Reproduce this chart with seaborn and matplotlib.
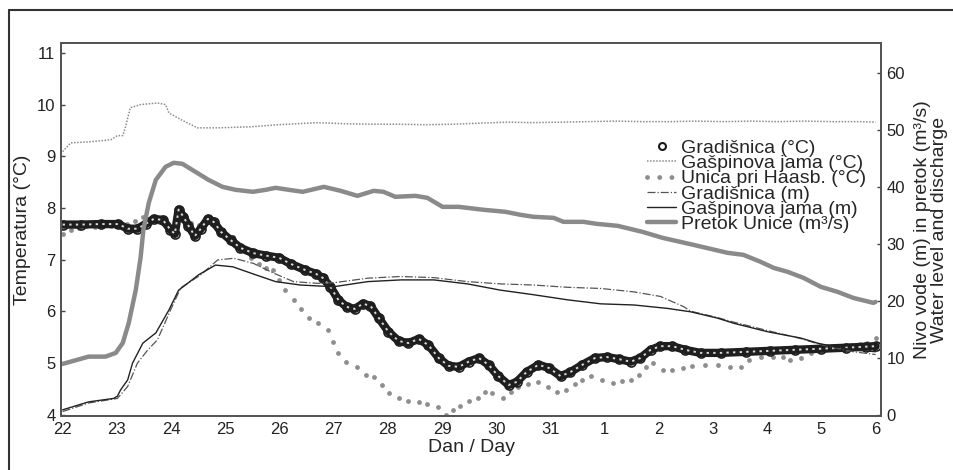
import matplotlib
matplotlib.use("Agg")
import matplotlib.pyplot as plt
import seaborn as sns
import pandas as pd
from matplotlib.lines import Line2D

# Dnevi (0 = 22.)
day_ticks = list(range(16))
day_labels = ['22', '23', '24', '25', '26', '27', '28', '29', '30', '31',
              '1', '2', '3', '4', '5', '6']

# Gradišnica (°C)
grad_t_day = [0.00, 0.33, 0.70, 1.03, 1.20, 1.38, 1.53, 1.68, 1.85, 1.99,
              2.07, 2.14, 2.23, 2.32, 2.44, 2.55, 2.68, 2.79, 2.92, 3.10,
              3.28, 3.51, 3.75, 3.99, 4.21, 4.48, 4.67, 4.80, 4.94, 5.09,
              5.24, 5.39, 5.54, 5.68, 5.83, 6.01, 6.20, 6.38, 6.57, 6.75,
              6.94, 7.12, 7.31, 7.49, 7.68, 7.86, 8.04, 8.23, 8.38, 8.56,
              8.78, 8.97, 9.19, 9.37, 9.59, 9.82, 10.04, 10.26, 10.48, 10.66,
              10.85, 11.03, 11.25, 11.48, 11.77, 12.14, 12.60, 13.06, 13.52, 13.99,
              14.45, 14.82, 15.00]
grad_t = [7.68, 7.68, 7.69, 7.69, 7.60, 7.60, 7.69, 7.79, 7.77, 7.58,
          7.50, 7.97, 7.83, 7.66, 7.46, 7.60, 7.79, 7.73, 7.54, 7.38,
          7.23, 7.13, 7.08, 7.04, 6.92, 6.80, 6.73, 6.65, 6.48, 6.22,
          6.09, 6.05, 6.15, 6.11, 5.88, 5.61, 5.43, 5.39, 5.47, 5.35,
          5.10, 4.95, 4.93, 5.03, 5.10, 4.97, 4.75, 4.58, 4.64, 4.83,
          4.97, 4.91, 4.75, 4.83, 4.97, 5.10, 5.12, 5.08, 5.03, 5.10,
          5.26, 5.33, 5.33, 5.26, 5.20, 5.20, 5.22, 5.24, 5.26, 5.28,
          5.30, 5.32, 5.33]

# Gašpinova jama (°C)
gasp_t_day = [0, 0.15, 0.5, 0.89, 1.01, 1.11, 1.16, 1.25, 1.44, 1.75,
              1.90, 1.96, 2.18, 2.49, 2.86, 3.47, 3.97, 4.70, 5.2, 5.7,
              6.2, 6.7, 7.2, 7.7, 8.2, 8.7, 9.2, 9.7, 10.2, 10.7,
              11.2, 11.7, 12.2, 12.7, 13.2, 13.7, 14.2, 14.7, 15.0]
gasp_t = [9.09, 9.26, 9.28, 9.32, 9.40, 9.40, 9.57, 9.94, 10.0, 10.03,
          10.0, 9.84, 9.71, 9.55, 9.55, 9.57, 9.61, 9.65, 9.63, 9.62,
          9.62, 9.61, 9.62, 9.64, 9.66, 9.65, 9.66, 9.67, 9.68, 9.67,
          9.67, 9.68, 9.67, 9.68, 9.67, 9.68, 9.67, 9.67, 9.66]

# Unica pri Haasbergu (°C)
uni_day = [0.00, 0.15, 0.30, 0.44, 0.59, 0.74, 0.89, 1.03, 1.18, 1.33,
           1.48, 1.62, 1.77, 1.92, 2.07, 2.21, 2.36, 2.51, 2.66, 2.80,
           2.95, 3.14, 3.32, 3.47, 3.62, 3.75, 3.88, 3.99, 4.11, 4.26,
           4.39, 4.54, 4.72, 4.89, 4.98, 5.09, 5.22, 5.44, 5.59, 5.74,
           5.90, 6.02, 6.20, 6.38, 6.57, 6.73, 6.92, 7.07, 7.21, 7.34,
           7.49, 7.66, 7.80, 7.93, 8.12, 8.27, 8.41, 8.58, 8.78, 8.95,
           9.13, 9.28, 9.45, 9.59, 9.74, 9.96, 10.15, 10.33, 10.48, 10.63,
           10.76, 10.89, 11.07, 11.25, 11.44, 11.62, 11.86, 12.10, 12.32, 12.51,
           12.66, 12.88, 13.10, 13.30, 13.43, 13.62, 13.80, 13.99, 14.23, 14.39,
           14.54, 14.72, 14.85, 15.00]
uni_t = [7.50, 7.58, 7.62, 7.66, 7.64, 7.66, 7.66, 7.68, 7.69, 7.75,
         7.83, 7.77, 7.73, 7.69, 7.73, 7.77, 7.71, 7.68, 7.73, 7.66,
         7.58, 7.44, 7.19, 7.04, 6.92, 6.84, 6.80, 6.61, 6.42, 6.22,
         6.05, 5.88, 5.78, 5.64, 5.41, 5.20, 5.03, 4.93, 4.77, 4.74,
         4.58, 4.43, 4.33, 4.27, 4.25, 4.21, 4.15, 4.00, 4.10, 4.17,
         4.27, 4.33, 4.44, 4.43, 4.33, 4.44, 4.54, 4.60, 4.64, 4.54,
         4.44, 4.48, 4.60, 4.68, 4.75, 4.68, 4.62, 4.66, 4.68, 4.77,
         4.93, 5.01, 4.87, 4.87, 4.91, 4.95, 4.97, 4.97, 4.93, 4.93,
         5.06, 5.12, 5.12, 5.12, 5.06, 5.10, 5.20, 5.32, 5.32, 5.33,
         5.35, 5.37, 5.39, 5.49]

# Gradišnica (m)
grad_m_day = [0, 0.48, 1.01, 1.20, 1.38, 1.57, 1.75, 1.99, 2.18, 2.55,
              2.86, 3.16, 3.52, 3.89, 4.26, 4.70, 5.00, 5.63, 6.24, 6.85,
              7.47, 8.08, 8.69, 9.32, 9.93, 10.54, 11.03, 11.46, 11.59, 12.08,
              12.38, 13.01, 13.62, 13.93, 14.23, 14.59, 15.0]
grad_m = [0.6, 2.1, 2.9, 5.0, 9.1, 11.4, 13.2, 18.4, 22.3, 24.6,
          27.2, 27.5, 26.6, 24.9, 23.4, 23.1, 23.2, 24.0, 24.3, 24.1,
          23.4, 23.0, 22.8, 22.4, 22.2, 21.6, 20.8, 19.0, 18.2, 17.1,
          16.3, 14.8, 13.4, 12.5, 11.8, 11.1, 10.6]

# Gašpinova jama (m)
gasp_m_day = [0, 0.48, 0.94, 1.01, 1.07, 1.20, 1.29, 1.48, 1.72, 1.96,
              2.14, 2.32, 2.51, 2.82, 3.14, 3.56, 3.93, 4.39, 5.00, 5.63,
              6.24, 6.85, 7.47, 8.08, 8.69, 9.32, 9.93, 10.54, 11.16, 11.59,
              12.08, 12.38, 13.01, 13.62, 13.93, 14.23, 14.59, 15.0]
gasp_m = [0.9, 2.3, 2.9, 3.3, 4.4, 6.15, 9.1, 12.6, 14.4, 18.4,
          21.9, 23.2, 24.6, 26.3, 26.0, 24.6, 23.4, 22.8, 22.5, 23.4,
          23.7, 23.7, 23.0, 21.9, 21.1, 20.2, 19.5, 19.3, 18.7, 18.1,
          17.0, 16.1, 14.6, 13.5, 12.6, 12.0, 11.4, 11.1]

# Pretok Unice (m3/s)
q_day = [0.00, 0.48, 0.79, 0.98, 1.11, 1.22, 1.35, 1.44, 1.49, 1.59,
         1.72, 1.90, 2.05, 2.21, 2.45, 2.69, 2.95, 3.19, 3.51, 3.75,
         3.93, 4.17, 4.43, 4.82, 5.13, 5.44, 5.74, 5.92, 6.14, 6.51,
         6.73, 7.01, 7.31, 7.77, 8.17, 8.45, 8.69, 9.06, 9.24, 9.61,
         9.85, 10.24, 10.70, 11.07, 11.64, 12.27, 12.56, 12.88, 13.12, 13.38,
         13.67, 13.99, 14.30, 14.59, 14.96, 15.00]
q = [8.96, 10.24, 10.24, 10.89, 12.64, 16.15, 21.95, 27.74, 32.48, 37.23,
     41.26, 43.55, 44.25, 44.07, 42.67, 41.26, 40.03, 39.51, 39.16, 39.51,
     39.86, 39.51, 39.16, 40.03, 39.33, 38.45, 39.33, 39.16, 38.28, 38.45,
     38.10, 36.52, 36.52, 36.0, 35.65, 35.12, 34.77, 34.59, 33.89, 33.89,
     33.54, 33.19, 32.13, 31.08, 29.85, 28.45, 28.10, 26.87, 25.81, 25.11,
     24.06, 22.48, 21.60, 20.54, 19.67, 19.84]

labels = ['Gradišnica (°C)', 'Gašpinova jama (°C)', 'Unica pri Haasb. (°C)',
          'Gradišnica (m)', 'Gašpinova jama (m)', 'Pretok Unice (m³/s)']

sns.set_style("white")
plt.rcParams['font.family'] = ['Liberation Sans', 'DejaVu Sans']

fig = plt.figure(figsize=(9.54, 4.70), dpi=100)
ax = fig.add_axes([61 / 954, 1 - 416 / 470, 820 / 954, 373 / 470])
ax2 = ax.twinx()

# temperature (left axis)
sns.lineplot(x=gasp_t_day, y=gasp_t, ax=ax, color='#8c8c8c', lw=1.1,
             linestyle=(0, (1, 1)), estimator=None, sort=False)
d_grad = pd.DataFrame({'dan': grad_t_day, 't': grad_t})
sns.lineplot(data=d_grad, x='dan', y='t', ax=ax, color='#1e1e1e', lw=6,
             estimator=None, sort=False)
sns.lineplot(data=d_grad, x='dan', y='t', ax=ax, color='#1e1e1e', lw=0,
             marker='o', markersize=6.5, markerfacecolor='none',
             markeredgecolor='#1e1e1e', markeredgewidth=1.2,
             estimator=None, sort=False)
sns.lineplot(data=d_grad, x='dan', y='t', ax=ax, color='#d8d8d8', lw=1.4,
             linestyle=(0, (1.2, 2.2)), estimator=None, sort=False)
sns.scatterplot(x=uni_day, y=uni_t, ax=ax, color='#8e8e8e', s=12,
                linewidth=0)

# level and discharge (right axis)
sns.lineplot(x=grad_m_day, y=grad_m, ax=ax2, color='#555555', lw=0.9,
             linestyle='-.', estimator=None, sort=False)
sns.lineplot(x=gasp_m_day, y=gasp_m, ax=ax2, color='#222222', lw=1.0,
             estimator=None, sort=False)
sns.lineplot(x=q_day, y=q, ax=ax2, color='#8a8a8a', lw=3.2,
             estimator=None, sort=False)

ax.set_xlim(-0.03, 15.1)
ax.set_ylim(3.98, 11.19)
ax2.set_ylim(-0.18, 65.27)
ax.set_xticks(day_ticks)
ax.set_xticklabels(day_labels)
ax.set_yticks(range(4, 12))
ax2.set_yticks(range(0, 61, 10))

ax.set_xlabel('Dan / Day', fontsize=14, labelpad=2)
ax.set_ylabel('Temperatura (°C)', fontsize=14, labelpad=4)
ax2.set_ylabel('Nivo vode (m) in pretok (m³/s)\nWater level and discharge',
               fontsize=14, labelpad=6, linespacing=1.0)

for a in (ax, ax2):
    a.tick_params(direction='in', length=3, width=1, color='#444444',
                  labelsize=12, labelcolor='#222222', pad=4)
    for s in a.spines.values():
        s.set_color('#555555')
        s.set_linewidth(1.4)

handles = [
    Line2D([], [], ls='none', marker='o', ms=5, mfc='white', mec='#1a1a1a', mew=1.5),
    Line2D([], [], color='#8c8c8c', lw=1.1, ls=(0, (1, 1))),
    Line2D([], [], color='#8e8e8e', lw=3.5, ls=(0, (0.01, 2.5)), dash_capstyle='round'),
    Line2D([], [], color='#555555', lw=0.9, ls='-.'),
    Line2D([], [], color='#222222', lw=1.0),
    Line2D([], [], color='#8a8a8a', lw=3.2),
]
ax2.legend(handles, labels, loc='upper left', bbox_to_anchor=(0.715, 0.742),
           frameon=False, fontsize=14, labelspacing=-0.12, handlelength=1.5,
           handletextpad=0.25, borderpad=0, borderaxespad=0, numpoints=1)

# okvir strani
fig.add_artist(Line2D([9 / 954, 1], [1 - 10 / 470, 1 - 10 / 470],
                      transform=fig.transFigure, color='#333333', lw=1.5))
fig.add_artist(Line2D([9 / 954, 9 / 954], [0, 1 - 10 / 470],
                      transform=fig.transFigure, color='#333333', lw=1.5))

fig.savefig('out.png', dpi=100)
